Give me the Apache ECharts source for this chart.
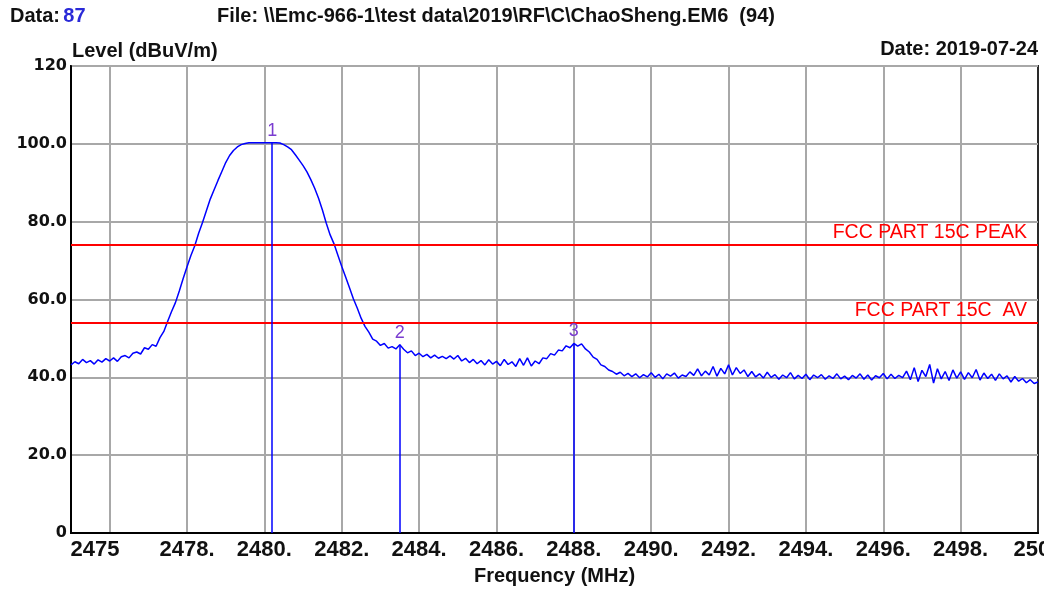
<!DOCTYPE html>
<html>
<head>
<meta charset="utf-8">
<script src="https://cdn.jsdelivr.net/npm/echarts@6/dist/echarts.min.js"></script>
<style>
html,body{margin:0;padding:0;background:#fff;}
#chart{width:1044px;height:590px;}
</style>
</head>
<body>
<div id="chart"></div>
<script>
// ---- data ----
const freqStart = 2475.0;   // MHz, first sweep point
const freqStep = 0.1;       // MHz, sweep step
const levels = [
  43.2,44.0,43.5,44.6,43.8,44.3,43.4,44.5,43.9,44.8,
  44.2,45.0,44.1,45.3,45.6,45.0,46.2,46.5,46.0,47.6,
  47.2,48.4,48.0,50.2,51.8,54.4,56.9,59.2,62.2,65.4,
  68.4,71.3,73.8,77.0,79.8,82.8,85.8,88.2,90.6,92.9,
  95.2,97.0,98.3,99.2,99.8,100.1,100.3,100.3,100.3,100.3,
  100.3,100.3,100.3,100.3,100.2,99.8,99.2,98.5,97.2,95.8,
  94.4,92.8,90.8,88.6,86.0,83.0,79.6,76.6,74.3,71.4,
  68.5,65.8,63.0,60.2,57.8,55.2,53.1,51.6,49.8,49.3,
  48.2,48.7,47.5,47.9,47.3,48.4,47.2,46.3,46.8,45.6,
  46.2,45.3,45.9,45.0,45.7,44.9,45.4,44.8,45.5,44.7,
  45.6,44.2,44.9,43.8,44.6,43.5,44.3,43.2,44.5,43.4,
  44.1,43.0,44.6,43.3,44.0,42.8,44.8,43.1,45.0,42.9,
  44.2,43.5,45.0,44.8,46.1,45.7,47.0,46.8,48.1,47.6,
  48.7,48.0,48.6,47.3,46.5,45.2,44.6,43.2,42.8,41.9,
  41.5,40.8,41.3,40.4,41.0,40.2,40.9,39.9,40.7,40.1,
  41.2,40.0,40.8,39.6,40.9,40.3,41.1,39.8,40.6,40.2,
  41.4,40.5,42.2,40.4,41.6,40.6,42.8,40.3,42.3,40.9,
  43.2,40.6,42.5,41.0,41.9,40.2,41.5,40.1,40.9,39.8,
  41.3,40.0,40.7,39.5,40.6,39.9,41.2,39.6,40.5,39.7,
  40.8,39.4,40.6,39.9,40.7,39.5,40.4,39.7,40.9,39.6,
  40.3,39.4,40.5,39.8,40.9,39.5,40.6,39.3,40.4,39.9,
  41.0,39.6,40.8,39.7,40.5,39.9,41.6,39.4,42.5,38.9,
  41.8,40.2,43.3,38.5,42.2,39.6,41.5,39.2,41.9,39.8,
  41.4,39.5,41.2,39.9,42.0,39.3,41.1,39.7,40.8,39.2,
  40.9,39.6,40.4,38.8,40.2,39.0,39.7,38.6,39.4,38.4,
  38.8
];
const markerNames = ['1', '2', '3'];
const markerFreqs = [2480.2, 2483.5, 2488.0];
const markerLevels = [100.3, 48.4, 48.7];
const limitNames = ['FCC PART 15C PEAK', 'FCC PART 15C  AV'];
const limitLevels = [74, 54];
const xGridValues = [2476, 2478, 2480, 2482, 2484, 2486, 2488, 2490, 2492, 2494, 2496, 2498];
const xLabelValues = [2475, 2478, 2480, 2482, 2484, 2486, 2488, 2490, 2492, 2494, 2496, 2498, 2500];
const yTickLabels = ['0', '20.0', '40.0', '60.0', '80.0', '100.0', '120'];
const headerData = '87';
const headerFile = 'File: \\\\Emc-966-1\\test data\\2019\\RF\\C\\ChaoSheng.EM6  (94)';
const headerDate = 'Date: 2019-07-24';
const yTitle = 'Level (dBuV/m)';
const xTitle = 'Frequency (MHz)';

// ---- build ----
const trace = levels.map((v, i) => [+(freqStart + i * freqStep).toFixed(2), v]);
const SANS = '"Liberation Sans", Arial, sans-serif';

const chart = echarts.init(document.getElementById('chart'), null, {renderer: 'canvas'});
chart.setOption({
  animation: false,
  backgroundColor: '#ffffff',
  grid: {left: 71, right: 6, top: 66, bottom: 57, show: true, borderColor: '#2a2a2a', borderWidth: 2,
         containLabel: false, outerBoundsMode: 'none'},
  graphic: [
    {type: 'text', left: 10, top: 6, style: {text: '{a|Data:} {b|' + headerData + '}', rich: {
      a: {font: 'bold 20px ' + SANS, fill: '#111'},
      b: {font: 'bold 20px ' + SANS, fill: '#2a2ad8'}}}},
    {type: 'text', left: 217, top: 6, style: {text: headerFile, font: 'bold 20px ' + SANS, fill: '#111'}},
    {type: 'text', left: 72, top: 41, style: {text: yTitle, font: 'bold 20px ' + SANS, fill: '#111'}},
    {type: 'text', right: 6, top: 39, style: {text: headerDate, font: 'bold 20px ' + SANS, fill: '#111'}}
  ],
  xAxis: {
    type: 'value', min: 2475, max: 2500, interval: 1,
    name: xTitle, nameLocation: 'middle', nameGap: 33,
    nameTextStyle: {fontFamily: SANS, fontWeight: 'bold', fontSize: 20, color: '#111'},
    axisLine: {show: true, onZero: false, lineStyle: {color: '#000', width: 2}},
    axisTick: {show: false, customValues: xGridValues},
    splitLine: {show: true, lineStyle: {color: '#a8a8a8', width: 2}},
    axisLabel: {
      customValues: xLabelValues, margin: 6,
      fontFamily: SANS, fontWeight: 'bold', fontSize: 22, color: '#111',
      formatter: function (v) {
        if (v === xLabelValues[0]) return '{p|' + v + '}';
        if (v === xLabelValues[xLabelValues.length - 1]) return String(v);
        return v + '.';
      },
      rich: {p: {padding: [0, 0, 0, 48], fontFamily: SANS, fontWeight: 'bold', fontSize: 22, color: '#111'}}
    }
  },
  yAxis: {
    type: 'value', min: 0, max: 120, interval: 20,
    axisLine: {show: true, lineStyle: {color: '#000', width: 2}},
    axisTick: {show: false},
    splitLine: {show: true, lineStyle: {color: '#a8a8a8', width: 2}},
    axisLabel: {
      margin: 4, fontFamily: '"DejaVu Sans", sans-serif', fontWeight: 'bold', fontSize: 16, color: '#111',
      formatter: function (v) { return yTickLabels[Math.round(v / 20)]; }
    }
  },
  series: [
    {
      name: 'Limits', type: 'line', data: [], silent: true,
      markLine: {
        silent: true, symbol: 'none', animation: false,
        lineStyle: {color: '#ff0000', width: 2, type: 'solid'},
        label: {position: 'insideEndTop', distance: [11, 2], color: '#ff0000', fontFamily: SANS, fontSize: 19.5},
        data: limitLevels.map((y, i) => ({yAxis: y, label: {formatter: limitNames[i]}}))
      }
    },
    {
      name: 'Level', type: 'line', data: trace, showSymbol: false, symbol: 'none',
      lineStyle: {color: '#0000ff', width: 1.5}, z: 3,
      markLine: {
        silent: true, symbol: 'none', animation: false,
        lineStyle: {color: '#0000ff', width: 1.5, type: 'solid'},
        label: {show: true, position: 'end', distance: 3, color: '#7a3cd0', fontFamily: SANS, fontSize: 18},
        data: markerFreqs.map((f, i) => [
          {coord: [f, 0]},
          {coord: [f, markerLevels[i]], label: {formatter: markerNames[i]}}
        ])
      }
    }
  ]
});
</script>
</body>
</html>
